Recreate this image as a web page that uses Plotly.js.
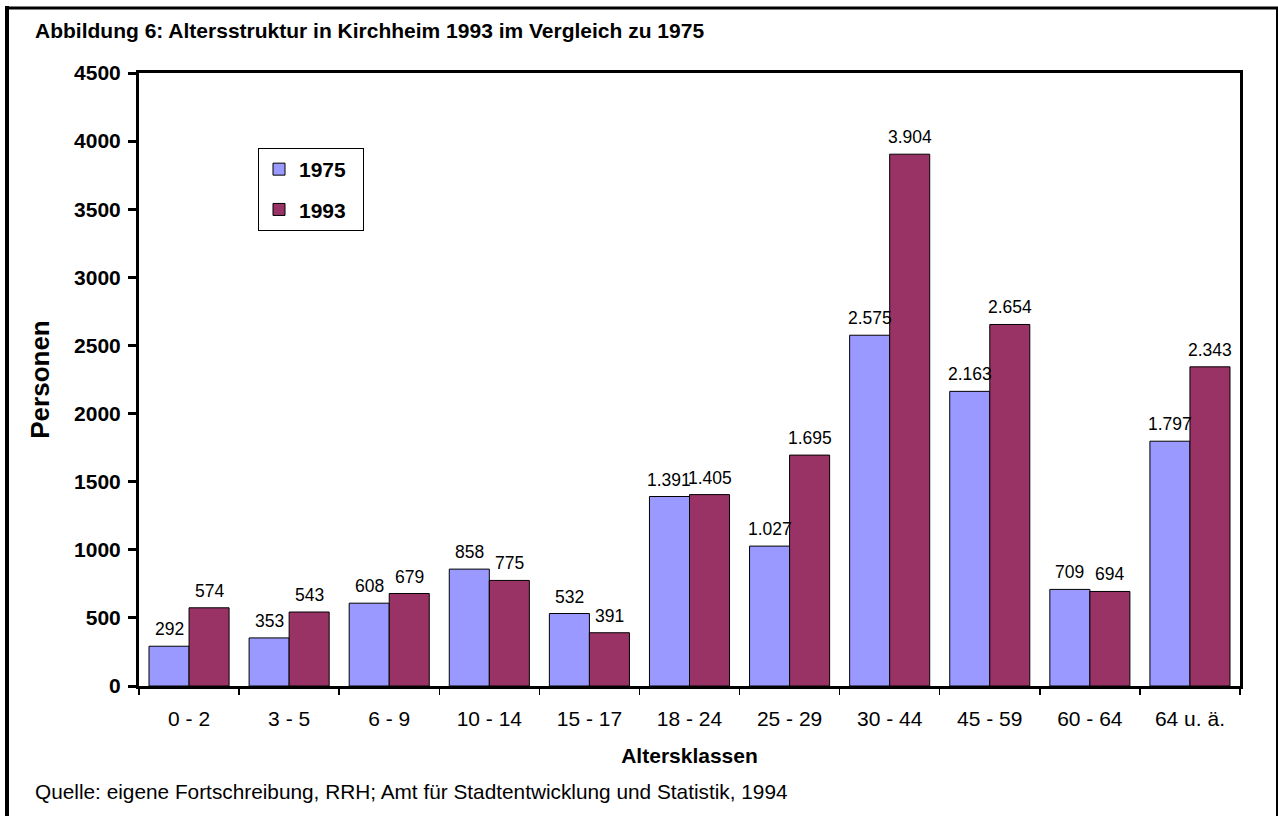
<!DOCTYPE html>
<html>
<head>
<meta charset="utf-8">
<script src="https://cdn.plot.ly/plotly-3.0.1.min.js"></script>
<style>
  html, body { margin: 0; padding: 0; background: #ffffff; }
  #chart { width: 1278px; height: 816px; }
</style>
</head>
<body>
<div id="chart"></div>
<script>
const categories = ["0 - 2", "3 - 5", "6 - 9", "10 - 14", "15 - 17", "18 - 24", "25 - 29", "30 - 44", "45 - 59", "60 - 64", "64 u. ä."];
const values1975 = [292, 353, 608, 858, 532, 1391, 1027, 2575, 2163, 709, 1797];
const values1993 = [574, 543, 679, 775, 391, 1405, 1695, 3904, 2654, 694, 2343];
const yTicks = [0, 500, 1000, 1500, 2000, 2500, 3000, 3500, 4000, 4500];
const seriesNames = ["1975", "1993"];

const FONT = "Arial, 'Liberation Sans', sans-serif";
const BARGAP = 0.2;

const traces = [
  {
    type: "bar", name: seriesNames[0] + "\u00a0\u00a0", x: categories, y: values1975,
    legendgroup: "a",
    marker: { color: "#9999FF", line: { color: "#000000", width: 1 } },
    hoverinfo: "x+y"
  },
  {
    type: "bar", name: seriesNames[1] + "\u00a0\u00a0", x: categories, y: values1993,
    legendgroup: "b",
    marker: { color: "#993366", line: { color: "#000000", width: 1 } },
    hoverinfo: "x+y"
  }
];

const plotL = 139, plotR = 1240, plotT = 73, plotB = 686;
const pw = plotR - plotL, ph = plotB - plotT;
function px(x) { return (x - plotL) / pw; }
function py(y) { return (plotB - y) / ph; }

// German number format (thousands separator ".")
function fmt(v) { return String(v).replace(/\B(?=(\d{3})+(?!\d))/g, "."); }

// Data labels: placed on the data axes, centred on each grouped bar
const barOffset = (1 - BARGAP) / 4;
const labelAnnotations = [];
[values1975, values1993].forEach(function (vals, s) {
  vals.forEach(function (v, i) {
    labelAnnotations.push({
      xref: "x", yref: "y", x: i + (s === 0 ? -barOffset : barOffset), y: v,
      xanchor: "center", yanchor: "bottom", yshift: 5,
      text: fmt(v), showarrow: false,
      font: { family: FONT, size: 17.5, color: "#000000" }
    });
  });
});

const layout = {
  width: 1278, height: 816,
  margin: { l: plotL, r: 1278 - plotR, t: plotT, b: 816 - plotB, pad: 0 },
  paper_bgcolor: "#ffffff", plot_bgcolor: "#ffffff",
  separators: ",.",
  font: { family: FONT, color: "#000000" },
  barmode: "group", bargap: BARGAP, bargroupgap: 0,
  showlegend: true,
  legend: {
    x: px(258), y: py(148), xanchor: "left", yanchor: "top",
    bgcolor: "#ffffff", bordercolor: "#000000", borderwidth: 1,
    font: { family: FONT, size: 21, color: "#000000", weight: "bold" },
    traceorder: "grouped", tracegroupgap: 10,
    itemwidth: 30
  },
  xaxis: {
    type: "category",
    showline: true, linecolor: "#000000", linewidth: 3, mirror: true,
    showgrid: false, zeroline: false,
    ticks: "outside", tickson: "boundaries", ticklen: 6, tickwidth: 1.5, tickcolor: "#000000",
    ticklabelstandoff: 12,
    tickfont: { family: FONT, size: 21, color: "#000000" },
    title: { text: "Altersklassen", font: { family: FONT, size: 21, color: "#000000", weight: "bold" }, standoff: 20 }
  },
  yaxis: {
    range: [0, 4500], tickvals: yTicks, ticktext: yTicks.map(String),
    showline: true, linecolor: "#000000", linewidth: 3, mirror: true,
    showgrid: false, zeroline: false,
    ticks: "outside", ticklen: 8, tickwidth: 3, tickcolor: "#000000",
    ticklabelstandoff: 3,
    tickfont: { family: FONT, size: 21, color: "#000000", weight: "bold" },
    title: { text: "Personen", font: { family: FONT, size: 26, color: "#000000", weight: "bold" }, standoff: 17 }
  },
  annotations: [
    {
      xref: "paper", yref: "paper", x: px(33), y: py(31), xanchor: "left", yanchor: "middle",
      text: "<b>Abbildung 6: Altersstruktur in Kirchheim 1993 im Vergleich zu 1975</b>",
      showarrow: false, font: { family: FONT, size: 21, color: "#000000" }
    },
    {
      xref: "paper", yref: "paper", x: px(33), y: py(791), xanchor: "left", yanchor: "middle",
      text: "Quelle: eigene Fortschreibung, RRH; Amt für Stadtentwicklung und Statistik, 1994",
      showarrow: false, font: { family: FONT, size: 20.8, color: "#000000" }
    }
  ].concat(labelAnnotations),
  shapes: [
    { type: "line", xref: "paper", yref: "paper", x0: px(7), x1: px(7), y0: py(6), y1: py(820), line: { color: "#000000", width: 4 } },
    { type: "line", xref: "paper", yref: "paper", x0: px(5), x1: px(1278), y0: py(8), y1: py(8), line: { color: "#000000", width: 3 } },
    { type: "line", xref: "paper", yref: "paper", x0: px(1277), x1: px(1277), y0: py(7), y1: py(820), line: { color: "#000000", width: 2 } }
  ]
};

Plotly.newPlot("chart", traces, layout, { displayModeBar: false, staticPlot: true });
</script>
</body>
</html>
